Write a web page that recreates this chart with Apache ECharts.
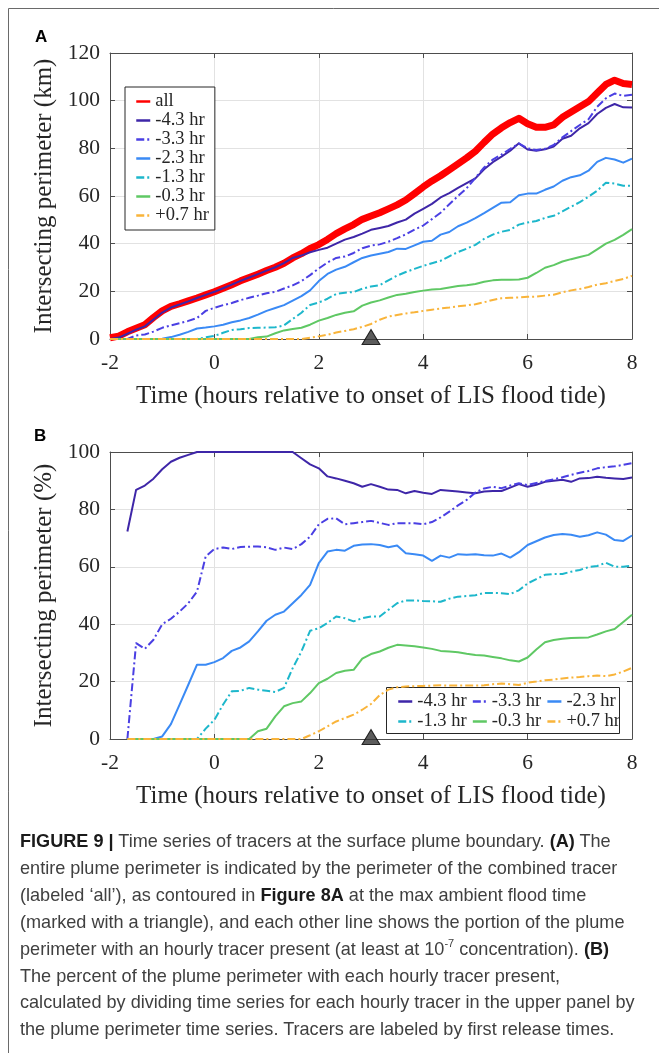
<!DOCTYPE html>
<html>
<head>
<meta charset="utf-8">
<script src="https://cdn.jsdelivr.net/npm/echarts@6/dist/echarts.min.js"></script>
<style>
  html, body { margin: 0; padding: 0; background: #fff; }
  #wrap { position: relative; width: 659px; height: 1053px; overflow: hidden; }
  #chart { position: absolute; left: 0; top: 0; width: 659px; height: 1053px; }
  #caption {
    position: absolute; left: 20px; top: 828px;
    font-family: "Liberation Sans", Arial, sans-serif;
    font-size: 18.1px; line-height: 26.9px; color: #404040;
    white-space: nowrap;
  }
  #caption b { font-weight: 700; color: #1a1a1a; }
  #caption sup { font-size: 11px; line-height: 0; vertical-align: 8px; }
</style>
</head>
<body>
<div id="wrap">
  <div id="chart"></div>
  <div id="caption">
    <b>FIGURE 9 |</b> Time series of tracers at the surface plume boundary. <b>(A)</b> The<br>
    entire plume perimeter is indicated by the perimeter of the combined tracer<br>
    (labeled ‘all’), as contoured in <b>Figure 8A</b> at the max ambient flood time<br>
    (marked with a triangle), and each other line shows the portion of the plume<br>
    perimeter with an hourly tracer present (at least at 10<sup>-7</sup> concentration). <b>(B)</b><br>
    The percent of the plume perimeter with each hourly tracer present,<br>
    calculated by dividing time series for each hourly tracer in the upper panel by<br>
    the plume perimeter time series. Tracers are labeled by first release times.
  </div>
</div>
<script>
// time (hours relative to onset of LIS flood tide), 10 min steps
var times = [-2, -1.833, -1.667, -1.5, -1.333, -1.167, -1, -0.833, -0.667, -0.5, -0.333, -0.167,
  0, 0.167, 0.333, 0.5, 0.667, 0.833, 1, 1.167, 1.333, 1.5, 1.667, 1.833,
  2, 2.167, 2.333, 2.5, 2.667, 2.833, 3, 3.167, 3.333, 3.5, 3.667, 3.833,
  4, 4.167, 4.333, 4.5, 4.667, 4.833, 5, 5.167, 5.333, 5.5, 5.667, 5.833,
  6, 6.167, 6.333, 6.5, 6.667, 6.833, 7, 7.167, 7.333, 7.5, 7.667, 7.833, 8];

var xTicks = [-2, 0, 2, 4, 6, 8];
var yTicksA = [0, 20, 40, 60, 80, 100, 120];
var yTicksB = [0, 20, 40, 60, 80, 100];
var floodTime = [3];

// panel A: intersecting perimeter (km)
var allKm = [0.5, 1.2, 3.0, 4.5, 6.0, 9.0, 11.8, 13.7, 14.8, 16.0, 17.2, 18.5,
  19.8, 21.3, 22.8, 24.4, 25.8, 27.2, 28.7, 30.1, 31.8, 34.0, 35.8, 38.0,
  39.6, 41.8, 44.2, 46.2, 48.0, 50.2, 51.6, 53.0, 54.6, 56.3, 58.3, 61.0,
  63.8, 66.3, 68.5, 71.0, 73.5, 76.0, 78.8, 82.5, 86.0, 88.6, 90.8, 92.6,
  90.3, 88.8, 88.8, 89.8, 93.0, 95.2, 97.4, 99.6, 103.2, 106.8, 108.6, 107.2, 106.8];
var km43 = [0, 0.6, 2.2, 3.9, 5.3, 8.2, 11.1, 13.2, 14.5, 15.8, 17.2, 18.5,
  19.8, 21.3, 22.8, 24.4, 25.8, 27.2, 28.7, 30.1, 31.8, 34.0, 35.0, 36.4,
  37.4, 38.3, 40.0, 41.7, 42.8, 44.2, 45.8, 46.6, 47.4, 48.9, 50.1, 52.6,
  54.6, 56.7, 59.4, 61.2, 63.4, 65.4, 67.4, 71.2, 74.2, 76.5, 79.0, 82.1,
  79.5, 79.0, 79.6, 80.8, 84.0, 85.3, 88.4, 90.6, 94.4, 97.0, 98.6, 97.2, 97.1];
var km33 = [0, 0, 0, 1.5, 1.9, 3.1, 4.7, 5.7, 6.6, 7.6, 8.8, 11.8,
  13.1, 14.2, 15.1, 16.3, 17.3, 18.2, 19.2, 19.8, 21.2, 22.5, 24.3, 26.8,
  29.6, 32.1, 34.0, 34.6, 36.1, 38.1, 39.2, 39.7, 40.8, 42.3, 43.9, 45.9,
  47.6, 50.3, 53.0, 56.5, 60.0, 63.3, 67.6, 72.0, 75.3, 77.4, 79.8, 82.0,
  80.0, 79.3, 79.8, 81.4, 84.6, 87.2, 89.8, 92.2, 97.4, 101.0, 103.0, 102.0, 102.5];
var km23 = [0, 0, 0, 0, 0, 0, 0.1, 0.8, 1.8, 3.0, 4.4, 4.8,
  5.3, 6.0, 7.0, 7.8, 8.8, 10.2, 11.8, 13.0, 14.2, 16.1, 18.0, 20.4,
  24.3, 27.3, 29.1, 30.3, 32.2, 34.0, 35.0, 35.8, 36.5, 37.9, 37.8, 39.3,
  40.8, 41.2, 43.8, 44.9, 47.3, 48.8, 50.7, 52.8, 55.0, 57.2, 57.4, 60.3,
  61.0, 61.0, 62.6, 64.0, 66.4, 67.9, 68.7, 70.6, 74.3, 76.0, 75.3, 74.0, 75.7];
var km13 = [0, 0, 0, 0, 0, 0, 0, 0, 0, 0, 0, 0.7,
  1.3, 2.6, 3.8, 4.1, 4.6, 4.7, 4.8, 4.9, 5.7, 8.4, 11.0, 14.3,
  15.3, 16.9, 18.9, 19.4, 19.7, 21.1, 22.0, 22.6, 24.6, 26.6, 28.1, 29.4,
  30.7, 31.8, 32.8, 34.7, 36.5, 37.9, 39.5, 42.0, 43.8, 45.0, 45.8, 48.0,
  48.9, 49.5, 50.8, 51.7, 53.5, 55.5, 57.4, 59.7, 62.2, 65.6, 65.2, 64.3, 64.3];
var km03 = [0, 0, 0, 0, 0, 0, 0, 0, 0, 0, 0, 0,
  0, 0, 0, 0, 0, 0.7, 1.0, 2.4, 3.6, 4.2, 4.7, 6.0,
  7.7, 8.8, 10.1, 11.0, 11.6, 14.0, 15.3, 16.2, 17.4, 18.5, 19.0, 19.7,
  20.3, 20.8, 21.0, 21.6, 22.2, 22.6, 23.1, 24.0, 24.6, 24.9, 24.9, 25.0,
  25.7, 27.7, 29.9, 31.0, 32.5, 33.5, 34.4, 35.3, 37.6, 40.0, 41.6, 43.7, 46.1];
var kmP07 = [0, 0, 0, 0, 0, 0, 0, 0, 0, 0, 0, 0,
  0, 0, 0, 0, 0, 0, 0, 0, 0, 0, 0, 0.5,
  1.1, 1.8, 2.7, 3.4, 4.1, 5.1, 6.3, 8.1, 9.4, 10.1, 10.7, 11.2,
  11.8, 12.3, 12.8, 13.2, 13.7, 14.1, 14.6, 15.4, 16.4, 17.1, 17.3, 17.4,
  17.7, 17.8, 18.2, 18.6, 19.6, 20.4, 21.0, 21.8, 22.8, 23.4, 24.4, 25.2, 26.5];

// panel B: intersecting perimeter (%)
var pct43 = [null, null, 72.3, 86.8, 88.3, 90.7, 94.0, 96.6, 98.0, 99.0, 100, 100,
  100, 100, 100, 100, 100, 100, 100, 100, 100, 100, 97.8, 95.7,
  94.3, 91.5, 90.8, 90.0, 89.1, 87.9, 88.8, 87.9, 86.9, 86.8, 85.6, 86.4,
  85.8, 85.4, 86.8, 86.5, 86.2, 85.9, 85.6, 86.2, 86.4, 86.4, 87.6, 88.8,
  87.9, 88.6, 89.6, 90.0, 90.3, 89.6, 90.8, 90.9, 91.4, 91.0, 90.8, 90.6, 91.1];
var pct33 = [null, null, 0, 33.4, 31.4, 34.6, 40.0, 41.9, 44.4, 47.3, 51.4, 63.6,
  66.2, 66.7, 66.2, 66.9, 67.0, 67.1, 66.8, 65.9, 66.7, 66.2, 67.9, 70.5,
  74.8, 76.7, 76.9, 74.8, 75.2, 75.6, 76.0, 75.3, 74.6, 75.2, 75.2, 75.2,
  74.8, 75.6, 77.2, 79.2, 81.4, 83.3, 85.9, 87.3, 87.9, 87.4, 88.3, 89.1,
  88.5, 89.2, 89.9, 90.5, 91.2, 92.0, 92.8, 93.4, 94.3, 94.7, 95.0, 95.5, 96.1];
var pct23 = [null, null, 0, 0, 0, 0, 0.9, 5.2, 12.0, 18.9, 25.9, 25.9,
  26.8, 28.2, 30.7, 31.9, 34.0, 37.5, 41.2, 43.3, 44.4, 47.3, 50.2, 53.7,
  61.3, 65.3, 65.9, 65.6, 67.3, 67.8, 67.9, 67.6, 66.8, 67.4, 64.7, 64.4,
  63.9, 62.1, 63.9, 63.2, 64.4, 64.2, 64.4, 64.0, 63.9, 64.6, 63.2, 65.1,
  67.6, 68.9, 70.2, 71.1, 71.4, 71.2, 70.5, 71.0, 72.0, 71.2, 69.3, 69.0, 70.9];
var pct13 = [null, null, 0, 0, 0, 0, 0, 0, 0, 0, 0, 3.6,
  6.7, 12.0, 16.6, 16.8, 17.8, 17.2, 16.8, 16.4, 17.8, 24.7, 30.5, 37.7,
  38.6, 40.4, 42.7, 42.1, 41.0, 42.1, 42.7, 42.7, 45.0, 47.3, 48.3, 48.3,
  48.1, 48.0, 47.8, 48.9, 49.6, 49.8, 50.1, 50.9, 50.9, 50.8, 50.5, 51.8,
  54.2, 55.7, 57.2, 57.5, 57.5, 58.3, 58.9, 59.9, 60.3, 61.4, 60.0, 60.0, 60.4];
var pct03 = [null, null, 0, 0, 0, 0, 0, 0, 0, 0, 0, 0,
  0, 0, 0, 0, 0, 2.7, 3.6, 7.9, 11.4, 12.5, 13.1, 16.0,
  19.5, 21.0, 23.0, 23.8, 24.1, 28.0, 29.6, 30.5, 31.8, 32.8, 32.6, 32.3,
  31.9, 31.4, 30.7, 30.5, 30.2, 29.7, 29.3, 29.1, 28.6, 28.1, 27.4, 27.0,
  28.4, 31.2, 33.7, 34.5, 34.9, 35.2, 35.3, 35.4, 36.4, 37.5, 38.3, 40.8, 43.3];
var pctP07 = [null, null, 0, 0, 0, 0, 0, 0, 0, 0, 0, 0,
  0, 0, 0, 0, 0, 0, 0, 0, 0, 0, 0, 1.3,
  2.7, 4.4, 6.1, 7.3, 8.5, 10.2, 12.2, 15.3, 17.2, 18.0, 18.3, 18.4,
  18.5, 18.6, 18.7, 18.6, 18.6, 18.6, 18.6, 18.7, 19.1, 19.3, 19.1, 18.8,
  19.6, 20.0, 20.5, 20.7, 21.1, 21.4, 21.6, 21.9, 22.1, 21.9, 22.5, 23.5, 24.8];

var tracerNames = ["-4.3 hr", "-3.3 hr", "-2.3 hr", "-1.3 hr", "-0.3 hr", "+0.7 hr"];
var tracerColors = ["#3e26a8", "#4a3fe3", "#3a8af5", "#1db7cb", "#5fc864", "#f9b43a"];
var tracerDashed = [false, true, false, true, false, true];

var serif = "'Liberation Serif', 'Times New Roman', serif";
var TXT = "#262626";
var AXC = "#4d4d4d";
var GRC = "#e2e2e2";
var DASHDOT = [8, 3, 2, 3];

function pairs(vals) {
  return times.map(function (t, i) { return [t, vals[i] == null ? "-" : vals[i]]; });
}

function xAxes(grid, name) {
  var base = {
    gridIndex: grid, type: "value", min: xTicks[0], max: xTicks[xTicks.length - 1], interval: 2,
    axisLine: { show: true, onZero: false, lineStyle: { color: AXC, width: 1 } },
    axisTick: { show: true, inside: true, length: 5, lineStyle: { color: AXC } }
  };
  return [
    Object.assign({}, base, {
      position: "bottom",
      axisLabel: { fontFamily: serif, fontSize: 21.5, color: TXT, margin: 13 },
      splitLine: { show: true, lineStyle: { color: GRC, width: 1 } },
      name: name, nameLocation: "middle", nameGap: 45,
      nameTextStyle: { fontFamily: serif, fontSize: 25, color: TXT }
    }),
    Object.assign({}, base, {
      position: "top", axisLabel: { show: false }, splitLine: { show: false }
    })
  ];
}

function yAxes(grid, ticks, name) {
  var base = {
    gridIndex: grid, type: "value", min: 0, max: ticks[ticks.length - 1], interval: 20,
    axisLine: { show: true, onZero: false, lineStyle: { color: AXC, width: 1 } },
    axisTick: { show: true, inside: true, length: 5, lineStyle: { color: AXC } }
  };
  return [
    Object.assign({}, base, {
      position: "left",
      axisLabel: { fontFamily: serif, fontSize: 21.5, color: TXT, margin: 10 },
      splitLine: { show: true, lineStyle: { color: GRC, width: 1 } },
      name: name, nameLocation: "middle", nameGap: 45,
      nameTextStyle: { fontFamily: serif, fontSize: 25, color: TXT }
    }),
    Object.assign({}, base, {
      position: "right", axisLabel: { show: false }, splitLine: { show: false }
    })
  ];
}

// axis 0/1 belong to grid A, 2/3 to grid B
function tracerSeries(axisIdx, valueSets) {
  return tracerNames.map(function (n, i) {
    return {
      name: n, type: "line", xAxisIndex: axisIdx, yAxisIndex: axisIdx,
      data: pairs(valueSets[i]), symbol: "none", clip: false, animation: false,
      itemStyle: { color: tracerColors[i] },
      lineStyle: { color: tracerColors[i], width: 2, type: tracerDashed[i] ? DASHDOT : "solid", join: "round" }
    };
  });
}

function marker(axisIdx) {
  return {
    name: "flood", type: "scatter", xAxisIndex: axisIdx, yAxisIndex: axisIdx,
    data: floodTime.map(function (t) { return [t, 0]; }),
    symbol: "triangle", symbolSize: [18, 15], symbolOffset: [0, -2],
    itemStyle: { color: "#333333", borderColor: "#000", borderWidth: 1 },
    clip: false, silent: true, z: 5, animation: false
  };
}

var legendText = { fontFamily: serif, fontSize: 18.5, color: TXT };
var legendCommon = {
  orient: "horizontal", itemWidth: 14, itemHeight: 14, itemGap: 5, padding: 0,
  itemStyle: { opacity: 0 }, lineStyle: { width: 2.5 }, textStyle: legendText, selectedMode: false
};
var xName = "Time (hours relative to onset of LIS flood tide)";

var option = {
  backgroundColor: "#fff",
  animation: false,
  grid: [
    { left: 110, top: 53, width: 522, height: 286 },
    { left: 110, top: 452, width: 522, height: 287 }
  ],
  xAxis: xAxes(0, xName).concat(xAxes(1, xName)),
  yAxis: yAxes(0, yTicksA, "Intersecting perimeter (km)").concat(yAxes(1, yTicksB, "Intersecting perimeter (%)")),
  legend: [
    Object.assign({}, legendCommon, {
      left: 125, top: 87, orient: "vertical",
      data: ["all"].concat(tracerNames),
      backgroundColor: "#fff", borderColor: "#262626", borderWidth: 1,
      padding: [5, 6, 5, 10], itemGap: 0
    }),
    Object.assign({}, legendCommon, { left: 397, top: 692, data: tracerNames.slice(0, 3) }),
    Object.assign({}, legendCommon, { left: 397, top: 712, data: tracerNames.slice(3) })
  ],
  graphic: [
    { type: "line", shape: { x1: 8.5, y1: 8.5, x2: 659, y2: 8.5 }, style: { stroke: "#6a6a6a", lineWidth: 1 } },
    { type: "line", shape: { x1: 8.5, y1: 8.5, x2: 8.5, y2: 1053 }, style: { stroke: "#6a6a6a", lineWidth: 1 } },
    { type: "text", left: 35, top: 29, style: { text: "A", font: "bold 17px 'Liberation Sans', Arial, sans-serif", fill: "#000" } },
    { type: "text", left: 34, top: 428, style: { text: "B", font: "bold 17px 'Liberation Sans', Arial, sans-serif", fill: "#000" } },
    // box behind the panel B legend
    { type: "rect", z: 3, shape: { x: 386.5, y: 687.5, width: 233, height: 46 },
      style: { fill: "#fff", stroke: "#262626", lineWidth: 1 } }
  ],
  series: [
    {
      name: "all", type: "line", xAxisIndex: 0, yAxisIndex: 0,
      data: pairs(allKm), symbol: "none", clip: false, animation: false,
      itemStyle: { color: "#ff0000" },
      lineStyle: { color: "#ff0000", width: 7, join: "round" }
    }
  ]
    .concat(tracerSeries(0, [km43, km33, km23, km13, km03, kmP07]))
    .concat([marker(0)])
    .concat(tracerSeries(2, [pct43, pct33, pct23, pct13, pct03, pctP07]))
    .concat([marker(2)])
};

var myChart = echarts.init(document.getElementById("chart"));
myChart.setOption(option);
</script>
</body>
</html>
